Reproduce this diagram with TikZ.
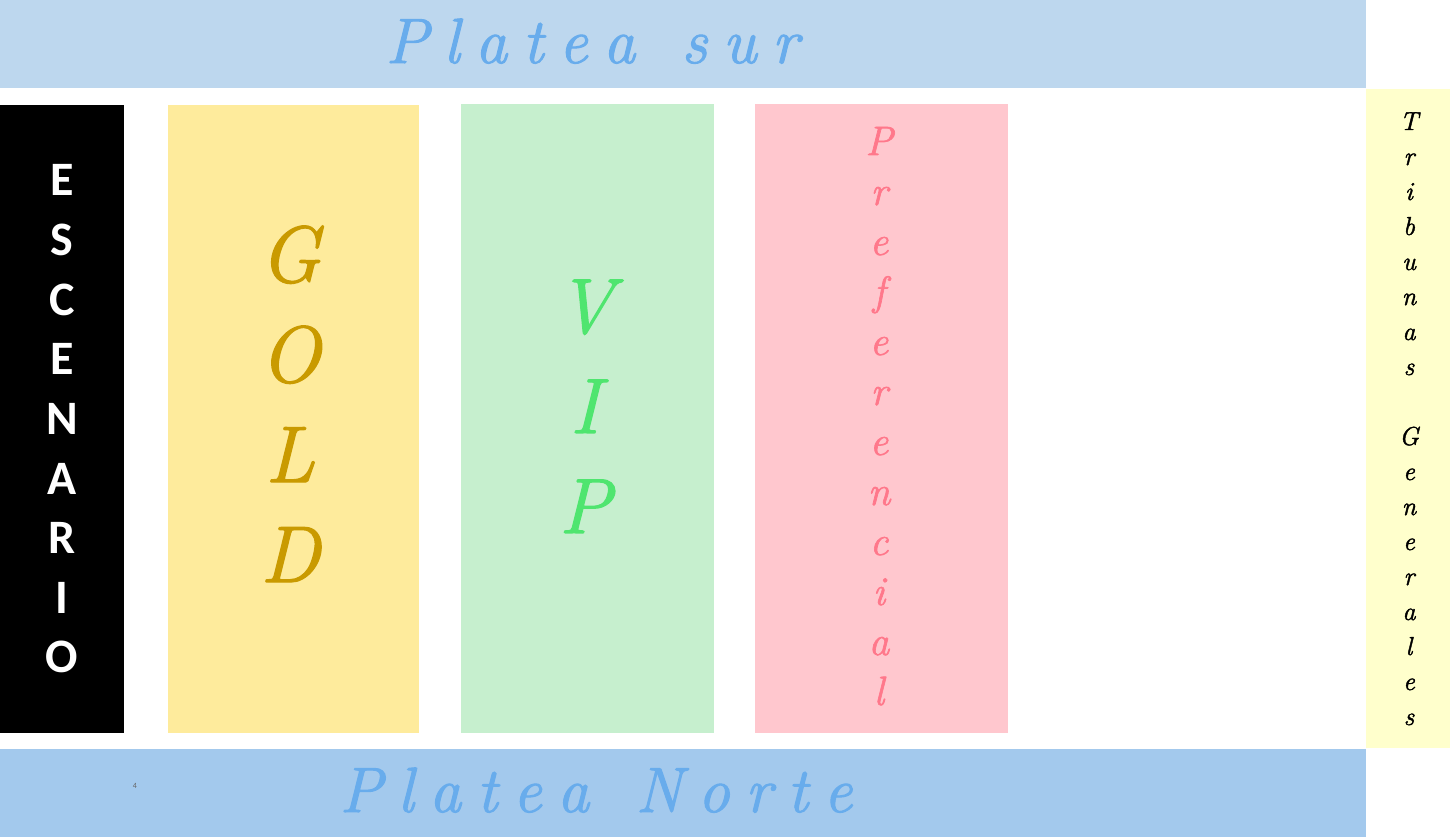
\documentclass[tikz,border=0pt]{standalone}
\usepackage{fontspec}
\newfontfamily\calibri{Carlito}
\newfontfamily\swash[FakeBold=1.6]{Latin Modern Roman}
\definecolor{surfill}{HTML}{BDD7EE}
\definecolor{nortefill}{HTML}{A3C9ED}
\definecolor{plateatext}{HTML}{68ACEC}
\definecolor{goldfill}{HTML}{FEEB9C}
\definecolor{goldtext}{HTML}{C99A00}
\definecolor{vipfill}{HTML}{C6EFCE}
\definecolor{viptext}{HTML}{4FE56F}
\definecolor{preffill}{HTML}{FFC7CE}
\definecolor{preftext}{HTML}{FF788B}
\definecolor{tribfill}{HTML}{FFFFCC}
\newcommand{\lsp}{\kern15.5pt}

\begin{document}
\begin{tikzpicture}[x=1pt,y=-1pt,letter/.style={anchor=base,inner sep=0pt,font=\swash\itshape\fontsize{#1}{#1}\selectfont},stageletter/.style={anchor=base,inner sep=0pt,text=white,font=\calibri\bfseries\fontsize{48}{48}\selectfont},platea/.style={letter=64,text=plateatext}]
\useasboundingbox (0,0) rectangle (1453,837);
% zones
\fill[surfill] (0,0) rectangle (1366,88);
\fill[nortefill] (0,749) rectangle (1366,837);
\fill[black] (0,105) rectangle (124,733);
\fill[goldfill] (168,105) rectangle (419,733);
\fill[vipfill] (461,104) rectangle (714,733);
\fill[preffill] (755,104) rectangle (1008,733);
\fill[tribfill] (1366,89) rectangle (1450,748);
% plateas
\node[platea] (sur) at (592,63) {P\lsp l\lsp a\lsp t\lsp e\lsp a\lsp\lsp\lsp s\lsp u\lsp r};
\node[platea] (norte) at (596,812) {P\lsp l\lsp a\lsp t\lsp e\lsp a\lsp\lsp\lsp N\lsp o\lsp r\lsp t\lsp e};
\node[anchor=base,inner sep=0pt,text=black!60,font=\calibri\fontsize{8}{8}\selectfont] (page) at (135,788) {4};
% columns
\foreach \c [count=\i] in {E,S,C,E,N,A,R,I,O}
  \node[stageletter] (escenario-\i) at (62,{196+59.6*(\i-1)}) {\c};
\foreach \c [count=\i] in {G,O,L,D}
  \node[letter=80,text=goldtext] (gold-\i) at (290,{282+100*(\i-1)}) {\c};
\foreach \c [count=\i] in {V,I,P}
  \node[letter=78,text=viptext] (vip-\i) at (585,{333+100*(\i-1)}) {\c};
\foreach \c [count=\i] in {P,r,e,f,e,r,e,n,c,i,a,l}
  \node[letter=41,text=preftext] (pref-\i) at (879,{155+50*(\i-1)}) {\c};
\foreach \c [count=\i] in {T,r,i,b,u,n,a,s,{},G,e,n,e,r,a,l,e,s}
  \node[letter=26] (trib-\i) at (1409,{130+35*(\i-1)}) {\c};
\end{tikzpicture}
\end{document}
